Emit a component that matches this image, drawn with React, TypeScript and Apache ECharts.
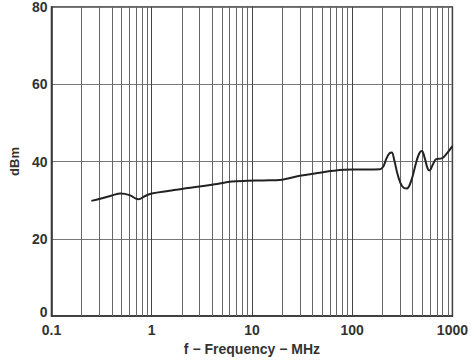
import React, { useEffect, useRef } from "react";
import * as echarts from "echarts";

const freqMHz = [0.25, 0.32, 0.4, 0.49, 0.6, 0.74, 0.85, 1.0, 1.5, 2.0, 3.0, 4.5, 6.3, 9.0, 13, 20, 30, 45, 65, 100, 140, 190, 205, 220, 235, 248, 262, 285, 315, 350, 390, 430, 465, 495, 530, 565, 590, 640, 690, 780, 860, 1000];
const levelDbm = [29.8, 30.5, 31.2, 31.7, 31.3, 30.2, 31.0, 31.7, 32.4, 32.9, 33.5, 34.2, 34.8, 35.0, 35.1, 35.3, 36.3, 37.0, 37.6, 37.9, 37.9, 38.0, 38.8, 40.8, 42.1, 42.3, 40.5, 36.5, 33.6, 33.0, 35.2, 39.3, 42.0, 42.7, 40.8, 38.2, 37.7, 39.3, 40.6, 40.8, 41.8, 44.0];
const xMinorGrid = [0.2, 0.3, 0.4, 0.5, 0.6, 0.7, 0.8, 0.9, 2, 3, 4, 5, 6, 7, 8, 9, 20, 30, 40, 50, 60, 70, 80, 90, 200, 300, 400, 500, 600, 700, 800, 900];
const yTicks = [0, 20, 40, 60, 80];

export default function App() {
  const ref = useRef<HTMLDivElement>(null);
  useEffect(() => {
    if (!ref.current) return;
    const chart = echarts.init(ref.current, null, { renderer: "svg" });
    const font = "'Liberation Sans', Arial, sans-serif";
    chart.setOption({
      animation: false,
      grid: {
        left: 40,
        right: 16,
        top: 3,
        bottom: 37.5,
        show: true,
        borderColor: "#333",
        borderWidth: 1.5,
        backgroundColor: "transparent",
      },
      xAxis: {
        type: "log",
        logBase: 10,
        min: 0.1,
        max: 1000,
        name: "f − Frequency − MHz",
        nameLocation: "middle",
        nameGap: 26,
        nameTextStyle: { fontFamily: font, fontWeight: "bold", fontSize: 14, color: "#333" },
        axisLine: { show: true, lineStyle: { color: "#333", width: 1.5 } },
        axisTick: { show: false },
        axisLabel: {
          fontFamily: font,
          fontWeight: "bold",
          fontSize: 14,
          color: "#333",
          margin: 7,
          formatter: (v: number) => String(v),
        },
        splitLine: { show: true, lineStyle: { color: "#444", width: 1 } },
        minorTick: { show: false },
        minorSplitLine: { show: false },
      },
      yAxis: {
        type: "value",
        min: yTicks[0],
        max: yTicks[yTicks.length - 1],
        interval: 20,
        name: "dBm",
        nameLocation: "middle",
        nameGap: 27,
        nameTextStyle: { fontFamily: font, fontWeight: "bold", fontSize: 13, color: "#333" },
        axisLine: { show: true, lineStyle: { color: "#333", width: 1.5 } },
        axisTick: { show: false },
        axisLabel: {
          fontFamily: font,
          fontWeight: "bold",
          fontSize: 14,
          color: "#333",
          margin: 4,
          formatter: (v: number) => (v === 0 ? "{z|0}" : String(v)),
          rich: { z: { fontFamily: font, fontWeight: "bold", fontSize: 14, color: "#333", padding: [0, 0, 8, 0] } },
        },
        splitLine: { show: true, lineStyle: { color: "#777", width: 1 } },
      },
      series: [
        {
          type: "line",
          data: freqMHz.map((f, i) => [f, levelDbm[i]]),
          smooth: 0.4,
          showSymbol: false,
          lineStyle: { color: "#222", width: 2 },
          z: 5,
          markLine: {
            silent: true,
            symbol: ["none", "none"],
            label: { show: false },
            lineStyle: { color: "#666", width: 1, type: "solid" },
            data: xMinorGrid.map((v) => ({ xAxis: v })),
            z: 1,
          },
        },
      ],
    });
    return () => chart.dispose();
  }, []);
  return <div ref={ref} style={{ position: "absolute", left: 0, top: 0, width: 471, height: 361 }} />;
}
